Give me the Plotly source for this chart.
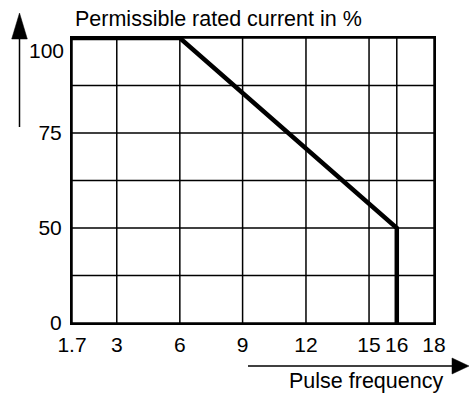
import numpy as np
import plotly.graph_objects as go

# Derating curve: permissible rated current (%) vs pulse frequency
pulse_freq = [1.7, 6, 16, 16]
rated_current = [100, 100, 50, 0]

# Axis ticks and where each one sits on the (schematic, non-linear) grid
freq_ticks = [1.7, 3, 6, 9, 12, 15, 16, 18]
freq_grid_pos = [0, 0.71, 1.71, 2.705, 3.71, 4.71, 5.15, 5.74]
current_ticks = [0, 50, 75, 100]
current_grid_pos = [0, 2, 4, 6]
current_grid_lines = [0, 1, 2, 3, 4, 5, 6]


def fx(v):
    return np.interp(v, freq_ticks, freq_grid_pos)


def fy(v):
    return np.interp(v, current_ticks, current_grid_pos)


FONT = "Liberation Sans, Arial, sans-serif"
W, H = 469, 398
ML, MR, MT, MB = 72, 35, 38, 75
PW, PH = W - ML - MR, H - MT - MB


def px(x):
    return (x - ML) / PW


def py(y):
    return (H - MB - y) / PH


fig = go.Figure()

# horizontal grid lines
for g in current_grid_lines:
    fig.add_shape(type="line", xref="x", yref="y", x0=0, x1=freq_grid_pos[-1],
                  y0=g, y1=g, line=dict(color="black", width=1.5), layer="below")
# vertical grid lines
for g in freq_grid_pos:
    fig.add_shape(type="line", xref="x", yref="y", x0=g, x1=g,
                  y0=0, y1=current_grid_pos[-1], line=dict(color="black", width=1.5),
                  layer="below")

fig.add_trace(go.Scatter(
    x=fx(pulse_freq), y=fy(rated_current), mode="lines",
    line=dict(color="black", width=4.5), cliponaxis=False, hoverinfo="skip",
))

# axis arrows
fig.add_shape(type="line", xref="paper", yref="paper",
              x0=px(19.5), x1=px(19.5), y0=py(127), y1=py(38),
              line=dict(color="black", width=1.5))
fig.add_shape(type="path", xref="paper", yref="paper",
              path=f"M {px(11.7)},{py(39)} L {px(19.5)},{py(13)} L {px(27.3)},{py(39)} Z",
              fillcolor="black", line=dict(color="black", width=0.5))
fig.add_shape(type="line", xref="paper", yref="paper",
              x0=px(248), x1=px(453), y0=py(366), y1=py(366),
              line=dict(color="black", width=1.5))
fig.add_shape(type="path", xref="paper", yref="paper",
              path=f"M {px(452)},{py(358)} L {px(469)},{py(366)} L {px(452)},{py(374)} Z",
              fillcolor="black", line=dict(color="black", width=0.5))

fig.add_annotation(text="Permissible rated current in %", xref="paper", yref="paper",
                   x=px(73), y=py(19), xanchor="left", yanchor="middle",
                   showarrow=False, font=dict(family=FONT, size=21.5, color="black"))
fig.add_annotation(text="Pulse frequency", xref="paper", yref="paper",
                   x=px(445), y=py(381), xanchor="right", yanchor="middle",
                   showarrow=False, font=dict(family=FONT, size=21.5, color="black"))
# top value label sits just under the axis arrow
fig.add_annotation(text="100", xref="paper", yref="y",
                   x=px(66), y=fy(100), yshift=-12.5, xanchor="right", yanchor="middle",
                   showarrow=False, font=dict(family=FONT, size=21, color="black"))

fig.update_xaxes(
    range=[0, freq_grid_pos[-1]], tickmode="array", tickvals=freq_grid_pos,
    ticktext=[f"{t:g}" for t in freq_ticks], showgrid=False, zeroline=False,
    showline=True, linecolor="black", linewidth=2, mirror=True,
    ticks="outside", ticklen=2, tickcolor="rgba(0,0,0,0)",
    tickfont=dict(family=FONT, size=21, color="black"),
)
fig.update_yaxes(
    range=[0, current_grid_pos[-1]], tickmode="array", tickvals=current_grid_pos[:-1],
    ticktext=[str(t) for t in current_ticks[:-1]], showgrid=False, zeroline=False,
    showline=True, linecolor="black", linewidth=2, mirror=True,
    ticks="outside", ticklen=4, tickcolor="rgba(0,0,0,0)",
    tickfont=dict(family=FONT, size=21, color="black"),
)
fig.update_layout(
    width=W, height=H, margin=dict(l=ML, r=MR, t=MT, b=MB),
    paper_bgcolor="white", plot_bgcolor="white", showlegend=False,
)
fig.write_html("out.html")
